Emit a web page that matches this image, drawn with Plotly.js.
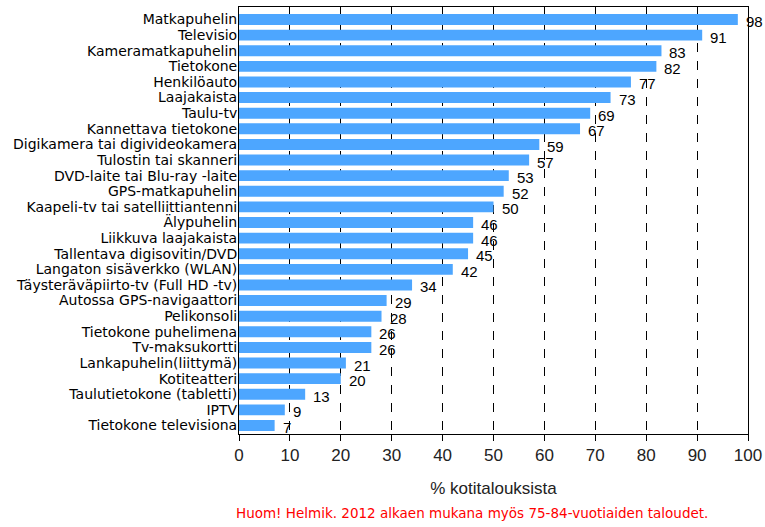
<!DOCTYPE html>
<html>
<head>
<meta charset="utf-8">
<script src="https://cdn.plot.ly/plotly-3.0.1.min.js"></script>
<style>html,body{margin:0;padding:0;background:#fff;}#chart{width:765px;height:527px;}</style>
</head>
<body>
<div id="chart"></div>
<script>
var categories = [
  "Matkapuhelin","Televisio","Kameramatkapuhelin","Tietokone","Henkilöauto","Laajakaista",
  "Taulu-tv","Kannettava tietokone","Digikamera tai digivideokamera","Tulostin tai skanneri",
  "DVD-laite tai Blu-ray -laite","GPS-matkapuhelin","Kaapeli-tv tai satelliittiantenni",
  "Älypuhelin","Liikkuva laajakaista","Tallentava digisovitin/DVD","Langaton sisäverkko (WLAN)",
  "Täysteräväpiirto-tv (Full HD -tv)","Autossa GPS-navigaattori","Pelikonsoli",
  "Tietokone puhelimena","Tv-maksukortti","Lankapuhelin(liittymä)","Kotiteatteri",
  "Taulutietokone (tabletti)","IPTV","Tietokone televisiona"
];
var values = [98,91,83,82,77,73,69,67,59,57,53,52,50,46,46,45,42,34,29,28,26,26,21,20,13,9,7];
var xTicks = [0,10,20,30,40,50,60,70,80,90,100];
var xTitle = "% kotitalouksista";
var note = "Huom! Helmik. 2012 alkaen mukana myös 75-84-vuotiaiden taloudet.";

var trace = {
  type: "bar",
  orientation: "h",
  x: values,
  y: categories,
  marker: {color: "#4da6ff"},
  hoverinfo: "x+y"
};

var annotations = values.map(function(v, i){
  return {x: v, y: categories[i], xref: "x", yref: "y", text: String(v),
    showarrow: false, xanchor: "left", xshift: 6, yshift: -2,
    font: {family: "Liberation Sans, Arial, sans-serif", size: 15, color: "#000"}};
});
annotations.push({x: 0.457, y: -0.186, xref: "paper", yref: "paper", text: note, showarrow: false,
  xanchor: "center", yanchor: "middle", font: {family: "DejaVu Sans, Verdana, sans-serif", size: 13.5, color: "#ff0000"}});

var layout = {
  width: 765, height: 527,
  margin: {l: 239, r: 17, t: 7, b: 93},
  paper_bgcolor: "#fff", plot_bgcolor: "#fff",
  showlegend: false,
  bargap: 0.3,
  xaxis: {
    range: [0, 100], tickvals: xTicks, ticktext: xTicks.map(String),
    showline: true, linecolor: "#000", linewidth: 1, mirror: true,
    ticks: "outside", ticklen: 6, tickcolor: "#000",
    showgrid: true, gridcolor: "#000", griddash: "dash", gridwidth: 1,
    zeroline: false,
    tickfont: {family: "Liberation Sans, Arial, sans-serif", size: 17, color: "#222"},
    title: {text: xTitle, standoff: 17, font: {family: "Liberation Sans, Arial, sans-serif", size: 17, color: "#222"}}
  },
  yaxis: {
    autorange: "reversed", type: "category",
    tickmode: "array", tickvals: categories, ticktext: categories,
    showline: true, linecolor: "#000", linewidth: 1, mirror: true,
    ticks: "", showgrid: false, zeroline: false,
    ticklabelstandoff: -2,
    tickfont: {family: "DejaVu Sans, Verdana, sans-serif", size: 14, color: "#000"}
  },
  annotations: annotations
};

Plotly.newPlot("chart", [trace], layout, {displayModeBar: false, staticPlot: true});
</script>
</body>
</html>
